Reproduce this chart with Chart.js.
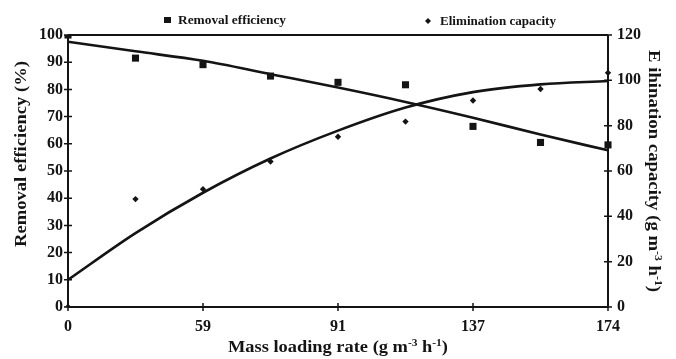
<!DOCTYPE html>
<html>
<head>
<meta charset="utf-8">
<script src="https://cdn.jsdelivr.net/npm/chart.js@4/dist/chart.umd.min.js"></script>
<style>
  html, body { margin: 0; padding: 0; background: #fff; }
  #wrap { width: 676px; height: 359px; position: relative; }
</style>
</head>
<body>
<div id="wrap"><canvas id="c" width="676" height="359"></canvas></div>
<script>
// Mass loading rate categories (g m-3 h-1); only every other position is labelled
const loadingRates = ['0', '', '59', '', '91', '', '137', '', '174'];

// Measured removal efficiency (%) — left axis
const removalEfficiency = [100, 91.5, 89.1, 84.9, 82.6, 81.7, 66.4, 60.5, 59.6];
// Measured elimination capacity (g m-3 h-1) — right axis
const eliminationCapacity = [0, 47.6, 52.0, 64.2, 75.1, 81.8, 91.1, 96.2, 103.3];

// Fitted trend curves
const removalTrend = [97.5, 94.0, 90.5, 85.6, 80.7, 75.4, 69.6, 63.4, 57.6];
const eliminationTrend = [12.0, 32.6, 50.4, 65.5, 77.8, 88.0, 94.8, 98.2, 99.7];

// Axis ranges and tick steps
const leftTicks = { min: 0, max: 100, step: 10 };
const rightTicks = { min: 0, max: 120, step: 20 };

const INK = '#141414';
const SERIF = '"Liberation Serif", "Times New Roman", serif';

// Draws a line of bold serif text with optional superscript parts,
// centred at (cx, cy), rotated by angle, optionally stretched to a width.
function drawRich(ctx, parts, cx, cy, angle, size, targetW) {
  ctx.save();
  ctx.translate(cx, cy);
  ctx.rotate(angle);
  const supSize = Math.round(size * 0.62);
  let total = 0;
  const widths = parts.map(p => {
    ctx.font = `bold ${p.sup ? supSize : size}px ${SERIF}`;
    const w = ctx.measureText(p.t).width;
    total += w;
    return w;
  });
  const sx = targetW ? targetW / total : 1;
  ctx.scale(sx, 1);
  ctx.fillStyle = INK;
  ctx.textBaseline = 'alphabetic';
  ctx.textAlign = 'left';
  let x = -total / 2;
  const base = size * 0.33;
  parts.forEach((p, i) => {
    ctx.font = `bold ${p.sup ? supSize : size}px ${SERIF}`;
    ctx.fillText(p.t, x, p.sup ? base - size * 0.42 : base);
    x += widths[i];
  });
  ctx.restore();
}

// Frame, crossing tick marks, axis titles and the legend row
const decorations = {
  id: 'decorations',
  beforeDatasetsDraw(chart) {
    const { ctx, chartArea: a, scales } = chart;
    ctx.save();
    ctx.strokeStyle = INK;
    ctx.lineWidth = 2;
    ctx.beginPath();
    ctx.moveTo(a.left, a.top); ctx.lineTo(a.right, a.top);
    ctx.moveTo(a.left, a.top); ctx.lineTo(a.left, a.bottom);
    ctx.moveTo(a.left, a.bottom); ctx.lineTo(a.right, a.bottom);
    ctx.moveTo(a.right, a.top); ctx.lineTo(a.right, a.bottom);
    ctx.stroke();

    ctx.lineWidth = 1.5;
    ctx.beginPath();
    scales.y.ticks.forEach(t => {
      const py = scales.y.getPixelForValue(t.value);
      ctx.moveTo(a.left - 4, py); ctx.lineTo(a.left + 4, py);
    });
    scales.y1.ticks.forEach(t => {
      const py = scales.y1.getPixelForValue(t.value);
      ctx.moveTo(a.right - 4, py); ctx.lineTo(a.right + 4, py);
    });
    loadingRates.forEach((lab, i) => {
      if (!lab) return;
      const px = scales.x.getPixelForValue(i);
      ctx.moveTo(px, a.bottom - 4); ctx.lineTo(px, a.bottom + 4);
    });
    ctx.stroke();
    ctx.restore();
  },
  afterDraw(chart) {
    const { ctx } = chart;
    // axis titles
    drawRich(ctx, [{ t: 'Mass loading rate (g m' }, { t: '-3', sup: true }, { t: ' h' }, { t: '-1', sup: true }, { t: ')' }],
      338, 347, 0, 16, 220);
    drawRich(ctx, [{ t: 'Removal efficiency (%)' }], 21, 154, -Math.PI / 2, 16, 186);
    drawRich(ctx, [{ t: 'E ihination capacity (g m' }, { t: '-3', sup: true }, { t: ' h' }, { t: '-1', sup: true }, { t: ')' }],
      654, 171, Math.PI / 2, 16, 242);

    // legend
    ctx.save();
    ctx.fillStyle = INK;
    ctx.fillRect(164, 17, 7, 6);
    ctx.beginPath();
    ctx.moveTo(428, 18); ctx.lineTo(431, 21); ctx.lineTo(428, 24); ctx.lineTo(425, 21);
    ctx.closePath(); ctx.fill();
    ctx.restore();
    drawRich(ctx, [{ t: 'Removal efficiency' }], 232, 20, 0, 12, 108);
    drawRich(ctx, [{ t: 'Elimination capacity' }], 498, 21, 0, 12, 116);
  }
};

const tickFont = { family: SERIF, weight: 'bold', size: 16 };

new Chart(document.getElementById('c'), {
  type: 'line',
  data: {
    labels: loadingRates,
    datasets: [
      {
        label: 'Removal efficiency',
        data: removalEfficiency,
        yAxisID: 'y',
        showLine: false,
        pointStyle: 'rect',
        pointRadius: 5,
        backgroundColor: INK,
        borderColor: INK,
        borderWidth: 0
      },
      {
        label: 'Elimination capacity',
        data: eliminationCapacity,
        yAxisID: 'y1',
        showLine: false,
        pointStyle: 'rectRot',
        pointRadius: 3.2,
        backgroundColor: INK,
        borderColor: INK,
        borderWidth: 0
      },
      {
        label: 'Removal efficiency trend',
        data: removalTrend,
        yAxisID: 'y',
        borderColor: INK,
        borderWidth: 2.6,
        pointRadius: 0,
        tension: 0.4,
        cubicInterpolationMode: 'monotone',
        fill: false
      },
      {
        label: 'Elimination capacity trend',
        data: eliminationTrend,
        yAxisID: 'y1',
        borderColor: INK,
        borderWidth: 2.6,
        pointRadius: 0,
        tension: 0.4,
        cubicInterpolationMode: 'monotone',
        fill: false
      }
    ]
  },
  options: {
    responsive: false,
    animation: false,
    events: [],
    layout: { padding: { top: 35, left: 0, right: 0, bottom: 0 } },
    plugins: { legend: { display: false }, tooltip: { enabled: false }, title: { display: false } },
    scales: {
      x: {
        type: 'category',
        offset: false,
        grid: { display: false, drawTicks: false },
        border: { display: false },
        ticks: { autoSkip: false, maxRotation: 0, padding: 10, color: INK, font: tickFont },
        afterFit(s) { s.height = 52; }
      },
      y: {
        position: 'left',
        min: leftTicks.min, max: leftTicks.max,
        grid: { display: false, drawTicks: false },
        border: { display: false },
        ticks: { stepSize: leftTicks.step, padding: 5, color: INK, font: tickFont },
        afterFit(s) { s.width = 68; }
      },
      y1: {
        position: 'right',
        min: rightTicks.min, max: rightTicks.max,
        grid: { display: false, drawTicks: false },
        border: { display: false },
        ticks: { stepSize: rightTicks.step, padding: 9, color: INK, font: tickFont },
        afterFit(s) { s.width = 68; }
      }
    }
  },
  plugins: [decorations]
});
</script>
</body>
</html>
